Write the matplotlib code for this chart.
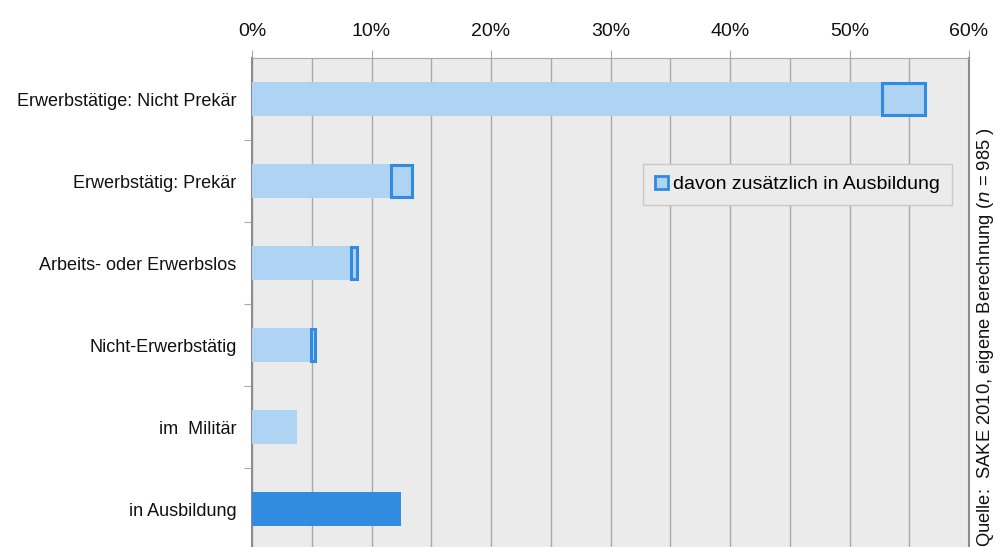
#!/usr/bin/env python3
"""Horizontal bar chart: Erwerbsstatus, with share additionally in Ausbildung."""

import matplotlib

matplotlib.use("Agg")
import matplotlib.pyplot as plt
from matplotlib.patches import Patch
from matplotlib.ticker import FuncFormatter, MultipleLocator

categories = [
    "Erwerbstätige: Nicht Prekär",
    "Erwerbstätig: Prekär",
    "Arbeits- oder Erwerbslos",
    "Nicht-Erwerbstätig",
    "im  Militär",
    "in Ausbildung",
]
# share in percent without additional education, and the extra part in education
base_pct = [52.7, 11.6, 8.3, 4.9, 3.8, 0.0]
extra_pct = [3.6, 1.8, 0.5, 0.35, 0.0, 0.0]
ausbildung_pct = [0.0, 0.0, 0.0, 0.0, 0.0, 12.5]

LIGHT = "#AED3F3"
DARK = "#318CE0"
BG = "#EBEBEB"
GRID = "#A9A9A9"

plt.rcParams["font.family"] = ["Liberation Sans", "DejaVu Sans"]

fig = plt.figure(figsize=(10.01, 5.47), dpi=100)
fig.patch.set_facecolor("#FFFFFF")
ax = fig.add_axes([252 / 1001, 1 - 550 / 547, (969 - 252) / 1001, 492 / 547])
ax.set_facecolor(BG)

ypos = list(range(len(categories)))
h = 0.42
ax.barh(ypos, base_pct, height=h, color=LIGHT, linewidth=0, zorder=3)
ex_y = [y for y, e in zip(ypos, extra_pct) if e > 0]
ex_w = [e for e in extra_pct if e > 0]
ex_l = [b for b, e in zip(base_pct, extra_pct) if e > 0]
ax.barh(ex_y, ex_w, left=ex_l, height=h * 0.93, color=LIGHT,
        edgecolor=DARK, linewidth=2.2, zorder=4)
au_y = [y for y, a in zip(ypos, ausbildung_pct) if a > 0]
au_w = [a for a in ausbildung_pct if a > 0]
ax.barh(au_y, au_w, height=h, color=DARK, linewidth=0, zorder=3)

ax.set_xlim(0, 60)
ax.set_ylim(len(categories) - 0.5, -0.5)

ax.xaxis.set_major_locator(MultipleLocator(10))
ax.xaxis.set_minor_locator(MultipleLocator(5))
ax.xaxis.set_major_formatter(FuncFormatter(lambda v, _: f"{v:.0f}%"))
ax.xaxis.tick_top()
ax.tick_params(axis="x", which="major", length=6, color=GRID, labelsize=14,
               pad=7, labelcolor="#111111")
ax.tick_params(axis="x", which="minor", length=0)
ax.grid(axis="x", which="both", color=GRID, linewidth=1.0, zorder=0)

ax.set_yticks([y + 0.5 for y in ypos[:-1]], minor=False)
ax.set_yticklabels([])
ax.set_yticks(ypos, minor=True)
ax.set_yticklabels(categories, minor=True)
ax.tick_params(axis="y", which="major", length=6, color=GRID)
ax.tick_params(axis="y", which="minor", length=0, labelsize=13, pad=11,
               labelcolor="#111111")

ax.spines["bottom"].set_visible(False)
ax.spines["top"].set_color(GRID)
ax.spines["left"].set_color("#8C8C8C")
ax.spines["right"].set_color("#8C8C8C")
ax.spines["left"].set_linewidth(1.5)
ax.spines["right"].set_linewidth(1.5)

leg = fig.legend(
    handles=[Patch(facecolor=LIGHT, edgecolor=DARK, linewidth=2.0,
                   label="davon zusätzlich in Ausbildung")],
    loc="upper right",
    bbox_to_anchor=(952 / 1001, 1 - 164 / 547),
    bbox_transform=fig.transFigure,
    fontsize=14,
    handlelength=0.65,
    handleheight=0.65,
    handletextpad=0.3,
    borderpad=0.6,
    borderaxespad=0,
    fancybox=False,
    framealpha=1,
)
leg.get_frame().set_facecolor(BG)
leg.get_frame().set_edgecolor("#C8C8C8")

fig.text(0.985, 1 - 337 / 547,
         "Quelle:  SAKE 2010, eigene Berechnung ($\\it{n}$ = 985 )",
         rotation=90, ha="center", va="center", fontsize=13.2, color="#111111")

fig.savefig("out.png", dpi=100)
